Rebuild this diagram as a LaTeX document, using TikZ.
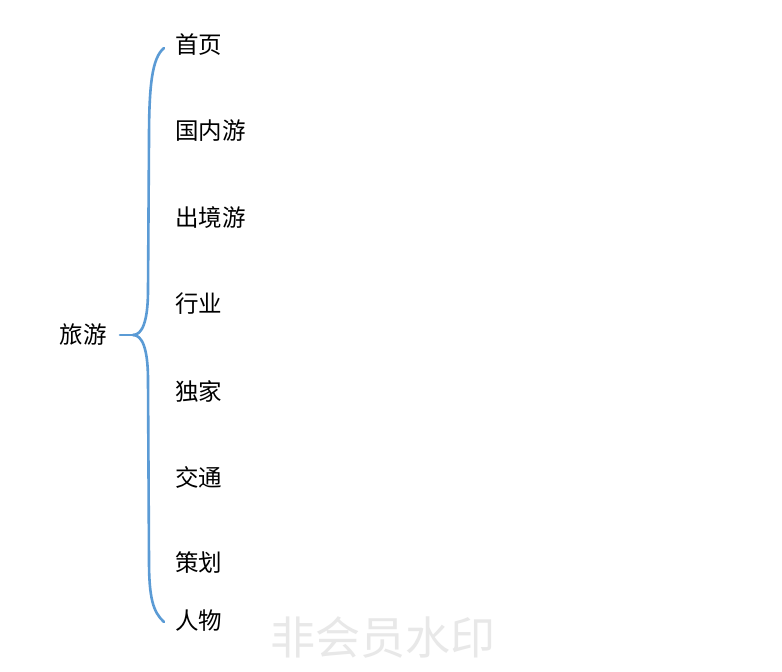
\documentclass[tikz,border=0pt]{standalone}
\usepackage{fontspec}
\usetikzlibrary{calc}
\newfontfamily\cjk{Noto Sans CJK SC}
\definecolor{bracecol}{RGB}{91,155,213}
\definecolor{wmcol}{RGB}{232,232,232}
\begin{document}
\begin{tikzpicture}[x=1pt,y=-1pt,
  item/.style={anchor=west,inner sep=0pt,font=\cjk\fontsize{23.5}{25}\selectfont},
  rootnode/.style={anchor=east,inner sep=0pt,font=\cjk\fontsize{23.5}{25}\selectfont},
  brace/.style={draw=bracecol,line width=2.6pt,line cap=round}]
\useasboundingbox[fill=white] (0,0) rectangle (782,672);
\node[rootnode] (root) at (107,335) {旅游};
\node[item] (n1) at (175,45) {首页};
\node[item] (n2) at (175,131) {国内游};
\node[item] (n3) at (175,218) {出境游};
\node[item] (n4) at (175,304) {行业};
\node[item] (n5) at (175,391) {独家};
\node[item] (n6) at (175,477) {交通};
\node[item] (n7) at (175,563) {策划};
\node[item] (n8) at (175,621) {人物};
\coordinate (m) at ($(root.east)+(26,0)$);
\coordinate (top) at ($(n1.west)+(-11,3)$);
\coordinate (bot) at ($(n8.west)+(-11,1)$);
\draw[brace] ($(root.east)+(13,0)$) -- (m);
\draw[brace] (top) .. controls (152,58) and (149,85) .. (149,140) -- (148,290) .. controls (148,322) and (142,335) .. (m);
\draw[brace] (m) .. controls (142,335) and (148,348) .. (148,380) -- (149,560) .. controls (149,598) and (153,612) .. (bot);
\node[text=wmcol,inner sep=0pt,font=\cjk\fontsize{45}{47}\selectfont] (wm) at (383,637) {非会员水印};
\end{tikzpicture}
\end{document}
